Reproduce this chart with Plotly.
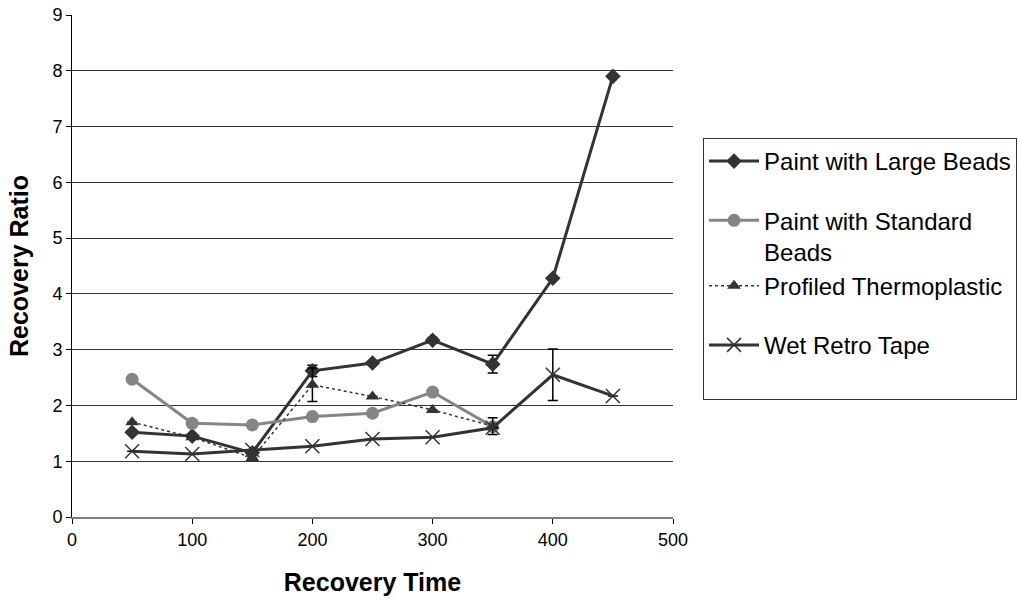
import plotly.graph_objects as go

recovery_time = [50, 100, 150, 200, 250, 300, 350, 400, 450]

large_beads = [1.52, 1.45, 1.15, 2.62, 2.76, 3.17, 2.74, 4.28, 7.9]
large_beads_err = [0, 0, 0, 0.1, 0, 0.05, 0.16, 0, 0]

standard_beads = [2.47, 1.68, 1.65, 1.8, 1.86, 2.24, 1.62]
thermoplastic = [1.7, 1.43, 1.06, 2.37, 2.16, 1.92, 1.63]
thermoplastic_err = [0, 0, 0, 0.3, 0, 0, 0.15]

wet_tape = [1.18, 1.13, 1.2, 1.27, 1.4, 1.43, 1.6, 2.55, 2.17]
wet_tape_err = [0, 0, 0, 0, 0, 0, 0, 0.46, 0]

dark = "#333333"
grey = "#858585"

fig = go.Figure()

fig.add_trace(go.Scatter(
    x=recovery_time, y=large_beads, name="Paint with Large Beads",
    mode="lines+markers", legendgroup="a",
    line=dict(color=dark, width=3),
    marker=dict(symbol="diamond", size=12, color=dark),
    error_y=dict(type="data", array=large_beads_err, color="black", thickness=1.5, width=5),
))
fig.add_trace(go.Scatter(
    x=recovery_time[:7], y=standard_beads, name="Paint with Standard<br>Beads",
    mode="lines+markers", legendgroup="b",
    line=dict(color=grey, width=3),
    marker=dict(symbol="circle", size=13, color=grey),
))
fig.add_trace(go.Scatter(
    x=recovery_time[:7], y=thermoplastic, name="Profiled Thermoplastic",
    mode="lines+markers", legendgroup="b",
    line=dict(color=dark, width=1.5, dash="dot"),
    marker=dict(symbol="triangle-up", size=12, color=dark),
    error_y=dict(type="data", array=thermoplastic_err, color="black", thickness=1.5, width=5),
))
fig.add_trace(go.Scatter(
    x=recovery_time, y=wet_tape, name="Wet Retro Tape<br> ",
    mode="lines+markers", legendgroup="c",
    line=dict(color=dark, width=3),
    marker=dict(symbol="x-thin-open", size=14, color=dark, line=dict(width=1.5, color=dark)),
    error_y=dict(type="data", array=wet_tape_err, color="black", thickness=1.5, width=5),
))

fig.update_layout(
    width=1018, height=600,
    margin=dict(l=72, r=345, t=15, b=83, autoexpand=False),
    paper_bgcolor="white", plot_bgcolor="white",
    font=dict(family="Liberation Sans, Arial, sans-serif", color="black", size=18),
    showlegend=True,
    legend=dict(
        x=1.05, y=0.755, xanchor="left", yanchor="top",
        bordercolor="#333333", borderwidth=1,
        font=dict(size=24), tracegroupgap=25, valign="top",
        traceorder="grouped", itemwidth=50,
    ),
    xaxis=dict(
        range=[0, 500], tickmode="array", tickvals=[0, 100, 200, 300, 400, 500],
        showgrid=False, zeroline=False, showline=True, linecolor="#808080", linewidth=2,
        ticks="outside", ticklen=5, tickcolor="black", tickfont=dict(size=18),
        title=dict(text="<b>Recovery Time</b>", font=dict(size=25), standoff=25),
    ),
    yaxis=dict(
        range=[0, 9], tickmode="array", tickvals=list(range(10)),
        showgrid=True, gridcolor="#333333", gridwidth=1, zeroline=False,
        showline=True, linecolor="black", linewidth=1,
        ticks="outside", ticklen=5, tickcolor="black", tickfont=dict(size=18),
        title=dict(text="<b>Recovery Ratio</b>", font=dict(size=25), standoff=16),
    ),
)

fig.write_html("out.html")
